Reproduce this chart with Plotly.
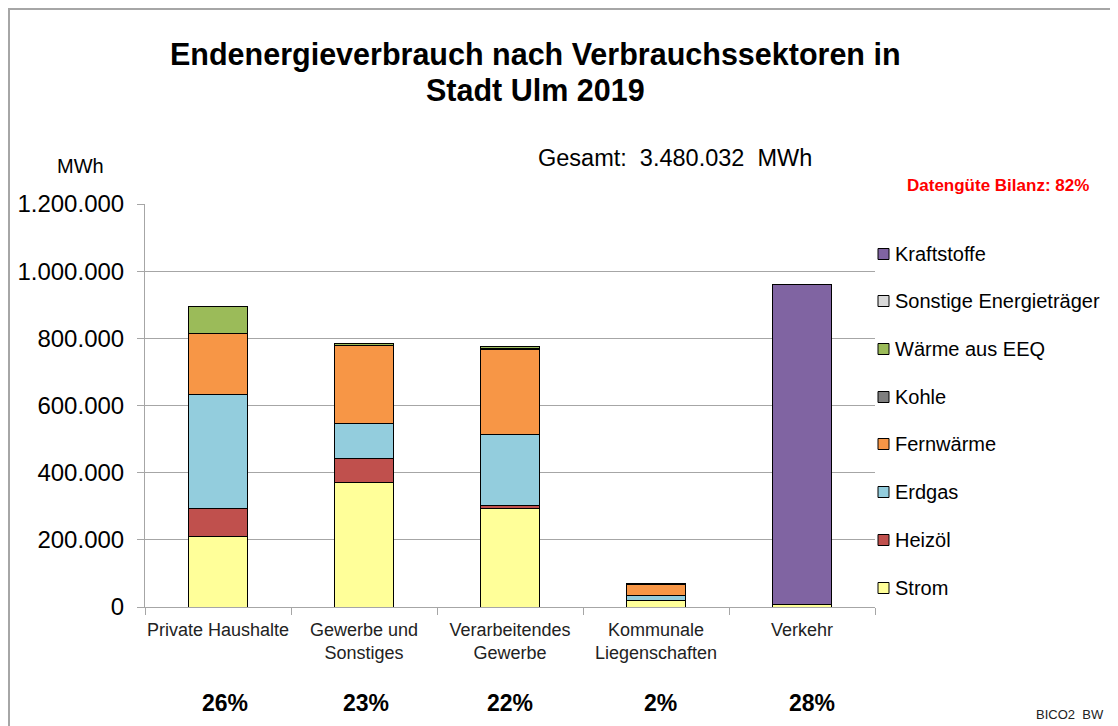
import plotly.graph_objects as go

categories = ["Private Haushalte", "Gewerbe und<br>Sonstiges", "Verarbeitendes<br>Gewerbe",
              "Kommunale<br>Liegenschaften", "Verkehr"]
percent_labels = ["26%", "23%", "22%", "2%", "28%"]

strom = [211000, 370000, 294000, 20000, 7000]
heizoel = [83000, 71500, 8000, 0, 0]
erdgas = [339000, 105000, 212000, 13000, 0]
fernwaerme = [182000, 233000, 253000, 35500, 0]
kohle = [0, 0, 2500, 1500, 0]
waerme_eeq = [79000, 4000, 5000, 0, 0]
sonstige = [0, 2000, 0, 0, 0]
kraftstoffe = [0, 0, 0, 0, 952000]

series = [
    ("Strom", strom, "#FFFF99"),
    ("Heizöl", heizoel, "#C0504D"),
    ("Erdgas", erdgas, "#93CDDD"),
    ("Fernwärme", fernwaerme, "#F79646"),
    ("Kohle", kohle, "#7F7F7F"),
    ("Wärme aus EEQ", waerme_eeq, "#9BBB59"),
    ("Sonstige Energieträger", sonstige, "#D9D9D9"),
    ("Kraftstoffe", kraftstoffe, "#8064A2"),
]

tick_vals = [0, 200000, 400000, 600000, 800000, 1000000, 1200000]
tick_text = ["0", "200.000", "400.000", "600.000", "800.000", "1.000.000", "1.200.000"]

fig = go.Figure()
for name, vals, color in series:
    fig.add_trace(go.Bar(
        x=categories, y=vals, name=name, showlegend=False,
        marker=dict(color=color, line=dict(color="#000000", width=1)),
        width=0.4,
    ))

# page has an 8px body offset; work in reference pixel coordinates
OFF = 8
W, H = 1118 - OFF, 726 - OFF
L, R, T, B = 145 - OFF, 875 - OFF, 204 - OFF, 607 - OFF
pw, ph = R - L, B - T

def px(x):
    return (x - OFF - L) / pw

def py(y):
    return (B - (y - OFF)) / ph

fig.update_layout(
    width=W, height=H,
    margin=dict(l=L, r=W - R, t=T, b=H - B, pad=0, autoexpand=False),
    barmode="stack",
    plot_bgcolor="white", paper_bgcolor="white",
    font=dict(family="Liberation Sans, Arial, sans-serif", color="#000000"),
    showlegend=False,
    yaxis=dict(
        range=[0, 1200000], tickvals=tick_vals, ticktext=tick_text,
        showgrid=True, gridcolor="#A6A6A6", gridwidth=1,
        showline=True, linecolor="#A6A6A6", linewidth=1,
        ticks="outside", ticklen=7, tickcolor="#A6A6A6", ticklabelstandoff=8,
        tickfont=dict(size=24, color="#000000"), zeroline=False,
    ),
    xaxis=dict(
        showline=True, linecolor="#A6A6A6", linewidth=1,
        ticks="outside", ticklen=7, tickcolor="#A6A6A6", tickson="boundaries",
        tickfont=dict(size=18, color="#222222"), tickangle=0, ticklabelstandoff=6,
    ),
)

annotations = [
    dict(text="<b>Endenergieverbrauch nach Verbrauchssektoren in</b>", x=px(535), y=py(54),
         font=dict(size=30.5)),
    dict(text="<b>Stadt Ulm 2019</b>", x=px(535), y=py(90), font=dict(size=30.5)),
    dict(text="Gesamt:  3.480.032  MWh", x=px(675), y=py(158), font=dict(size=23.5)),
    dict(text="MWh", x=px(80), y=py(166), font=dict(size=20)),
    dict(text="<b>Datengüte Bilanz: 82%</b>", x=px(998), y=py(185),
         font=dict(size=17, color="#FF0000")),
    dict(text="BICO2  BW", x=px(1070), y=py(714), font=dict(size=13, color="#222222")),
]
pct_shift = [7, 2, 0, 4, 10]
for i, p in enumerate(percent_labels):
    annotations.append(dict(text="<b>" + p + "</b>", x=i, xref="x", xshift=pct_shift[i],
                            y=py(703), font=dict(size=23)))
for a in annotations:
    a.setdefault("xref", "paper")
    a.update(yref="paper", showarrow=False, xanchor="center", yanchor="middle")

# manual legend (top: Kraftstoffe ... bottom: Strom)
legend_y = [588, 540, 492, 444, 397, 349, 301, 254]
shapes = []
for (name, vals, color), ly in zip(series, legend_y):
    shapes.append(dict(type="rect", xref="paper", yref="paper",
                       x0=px(878), x1=px(889), y0=py(ly + 5.5), y1=py(ly - 5.5),
                       fillcolor=color, line=dict(color="#000000", width=1)))
    annotations.append(dict(text=name, x=px(893), y=py(ly), xref="paper", yref="paper",
                            xanchor="left", yanchor="middle", showarrow=False,
                            font=dict(size=20, color="#000000")))

shapes.append(dict(type="line", xref="paper", yref="paper",
                   x0=px(8), x1=px(1118), y0=py(9), y1=py(9),
                   line=dict(color="#A6A6A6", width=2)))
shapes.append(dict(type="line", xref="paper", yref="paper",
                   x0=px(9), x1=px(9), y0=py(9), y1=py(726),
                   line=dict(color="#A6A6A6", width=2)))

fig.update_layout(annotations=annotations, shapes=shapes)

fig.write_html("out.html")
